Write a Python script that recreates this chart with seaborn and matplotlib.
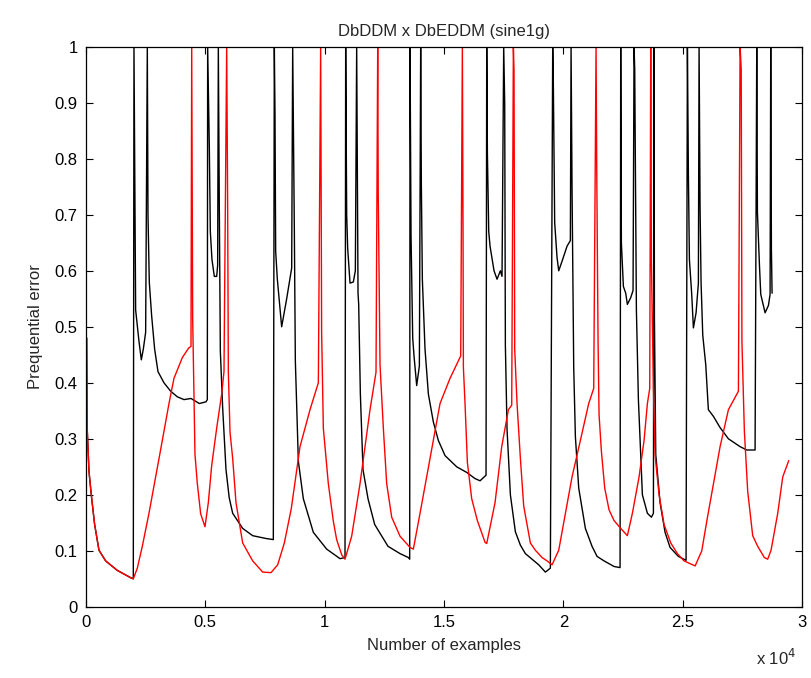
import numpy as np
import pandas as pd
import matplotlib
matplotlib.use("Agg")
import matplotlib.pyplot as plt
import seaborn as sns
from matplotlib.ticker import FixedLocator

# ---- data (number of examples, prequential error) ----
# shared start (both detectors behave the same before the first drift)
start_x = [30, 50, 126, 223, 363, 545, 824, 1313, 1872, 1983]
start_y = [0.48, 0.32, 0.242, 0.20, 0.147, 0.101, 0.082, 0.065, 0.052, 0.05]

dbddm_x = [2011, 2039, 2081, 2221, 2319, 2402, 2500,
           2570, 2598, 2653, 2751, 2877, 3017, 3268, 3548, 3827, 4106, 4400, 4749, 5028, 5084,
           5098, 5168, 5210, 5279, 5377, 5476, 5517,
           5545, 5587, 5629, 5726, 5866, 6000, 6146, 6565, 6984, 7542, 7849,
           7891, 7919, 7947, 8017, 8198, 8408, 8618,
           8660, 8729, 8771, 8897, 9106, 9525, 10084, 10643, 10852,
           10880, 10922, 10964, 11062, 11201, 11285,
           11341, 11397, 11425, 11495, 11606, 11816, 12095, 12654, 13157, 13506, 13562,
           13576, 13618, 13688, 13743, 13855, 13967,
           14022, 14050, 14092, 14204, 14344, 14553, 14763, 15042, 15531, 15950, 16299, 16509, 16760,
           16789, 16817, 16873, 16928, 17095, 17221, 17361, 17430,
           17500, 17542, 17570, 17640, 17780, 17989, 18200, 18408, 18967, 19246, 19455,
           19553, 19581, 19636, 19734, 19805, 19944, 20154, 20293,
           20322, 20363, 20433, 20503, 20643, 20922, 21201, 21411, 21704, 22123, 22375,
           22402, 22430, 22514, 22612, 22681, 22821, 22919,
           22961, 22989, 23059, 23143, 23213, 23310, 23520, 23688, 23772,
           23800, 23814, 23870, 24051, 24260, 24470, 24819, 25140,
           25196, 25238, 25280, 25377, 25447, 25559, 25656,
           25685, 25727, 25769, 25839, 25965, 26074, 26287, 26565, 26914, 27403, 27682, 28031,
           28101, 28129, 28213, 28269, 28450, 28590, 28660,
           28687, 28715, 28743]
dbddm_y = [1.0, 0.814, 0.53, 0.474, 0.441, 0.46, 0.49,
           1.0, 0.70, 0.58, 0.52, 0.46, 0.42, 0.40, 0.385, 0.375, 0.37, 0.372, 0.363, 0.366, 0.37,
           1.0, 0.82, 0.67, 0.62, 0.59, 0.59, 0.61,
           1.0, 0.71, 0.457, 0.356, 0.245, 0.195, 0.167, 0.14, 0.127, 0.122, 0.12,
           1.0, 0.88, 0.635, 0.585, 0.50, 0.55, 0.605,
           1.0, 0.675, 0.44, 0.26, 0.193, 0.133, 0.103, 0.086, 0.088,
           1.0, 0.70, 0.64, 0.578, 0.58, 0.60,
           1.0, 0.56, 0.54, 0.38, 0.245, 0.193, 0.147, 0.108, 0.095, 0.088, 0.085,
           1.0, 0.663, 0.48, 0.448, 0.395, 0.43,
           1.0, 0.755, 0.585, 0.46, 0.38, 0.33, 0.297, 0.27, 0.25, 0.24, 0.229, 0.225, 0.235,
           1.0, 0.81, 0.67, 0.644, 0.60, 0.585, 0.60, 0.59,
           1.0, 0.90, 0.467, 0.317, 0.20, 0.134, 0.11, 0.095, 0.075, 0.062, 0.069,
           1.0, 0.928, 0.686, 0.624, 0.60, 0.617, 0.644, 0.654,
           1.0, 0.748, 0.428, 0.304, 0.212, 0.14, 0.108, 0.09, 0.082, 0.072, 0.07,
           1.0, 0.65, 0.572, 0.56, 0.54, 0.552, 0.565,
           1.0, 0.96, 0.53, 0.37, 0.297, 0.20, 0.167, 0.16, 0.167,
           1.0, 0.518, 0.272, 0.186, 0.133, 0.106, 0.09, 0.083,
           1.0, 0.77, 0.62, 0.558, 0.498, 0.525, 0.578,
           1.0, 0.71, 0.578, 0.485, 0.432, 0.352, 0.34, 0.32, 0.30, 0.286, 0.28, 0.28,
           1.0, 0.705, 0.611, 0.558, 0.525, 0.538, 0.558,
           1.0, 0.638, 0.56]

dbeddm_x = [2151, 2360, 2640, 2920, 3198, 3478, 3687, 4037, 4300, 4400,
            4430, 4470, 4497, 4567, 4665, 4805, 4986, 5126, 5266, 5476, 5685, 5782,
            5895, 5936, 5964, 6034, 6146, 6285, 6565, 6984, 7403, 7752, 8031, 8310, 8600, 8967, 9386, 9735,
            9832, 9873, 9944, 10153, 10362, 10502, 10712, 10852, 11131, 11481, 11690, 11900, 12151,
            12222, 12244, 12319, 12458, 12598, 12808, 13157, 13576, 13715, 13995, 14274, 14553, 14833, 15252, 15699,
            15768, 15797, 15811, 15880, 15978, 16160, 16397, 16719, 16789, 17137, 17417, 17697, 17836,
            17905, 17933, 17961, 18059, 18199, 18338, 18618, 18827, 19106, 19316, 19525, 19805, 20084, 20363, 20712, 21061, 21271,
            21369, 21397, 21453, 21495, 21592, 21732, 21914, 22123, 22402, 22681, 22891, 23171, 23380, 23520, 23618,
            23660, 23688, 23772, 23841, 24009, 24218, 24498, 24777, 25056, 25520, 25798, 26008, 26287, 26565, 26914, 27333,
            27403, 27450, 27480, 27582, 27722, 27931, 28141, 28420, 28560, 28700, 28980, 29190, 29441]
dbeddm_y = [0.069, 0.108, 0.167, 0.232, 0.297, 0.363, 0.408, 0.445, 0.462, 0.465,
            1.0, 0.515, 0.45, 0.272, 0.22, 0.166, 0.143, 0.186, 0.252, 0.319, 0.38, 0.42,
            1.0, 0.718, 0.42, 0.312, 0.265, 0.186, 0.114, 0.082, 0.062, 0.061, 0.075, 0.114, 0.175, 0.286, 0.352, 0.40,
            1.0, 0.49, 0.319, 0.22, 0.153, 0.12, 0.093, 0.085, 0.126, 0.22, 0.286, 0.352, 0.419,
            1.0, 0.738, 0.432, 0.319, 0.22, 0.16, 0.126, 0.106, 0.103, 0.167, 0.232, 0.297, 0.363, 0.408, 0.448,
            1.0, 0.667, 0.428, 0.363, 0.258, 0.193, 0.154, 0.115, 0.113, 0.186, 0.286, 0.352, 0.36,
            1.0, 0.958, 0.46, 0.363, 0.265, 0.18, 0.114, 0.101, 0.088, 0.082, 0.075, 0.101, 0.167, 0.232, 0.297, 0.363, 0.39,
            1.0, 0.784, 0.474, 0.343, 0.278, 0.212, 0.173, 0.154, 0.14, 0.127, 0.167, 0.232, 0.297, 0.363, 0.39,
            1.0, 0.618, 0.389, 0.271, 0.20, 0.147, 0.114, 0.095, 0.082, 0.073, 0.10, 0.153, 0.22, 0.286, 0.352, 0.385,
            1.0, 0.96, 0.474, 0.314, 0.206, 0.127, 0.108, 0.088, 0.085, 0.101, 0.167, 0.232, 0.261]

x_ticks = [0, 5000, 10000, 15000, 20000, 25000, 30000]
x_tick_labels = ["0", "0.5", "1", "1.5", "2", "2.5", "3"]
y_ticks = [0, 0.1, 0.2, 0.3, 0.4, 0.5, 0.6, 0.7, 0.8, 0.9, 1.0]
y_tick_labels = ["0", "0.1", "0.2", "0.3", "0.4", "0.5", "0.6", "0.7", "0.8", "0.9", "1"]

series_names = ["DbDDM", "DbEDDM"]
series_colors = ["#000000", "#ff0000"]

# ---- build tables ----
df_b = pd.DataFrame({"examples": start_x + dbddm_x, "error": start_y + dbddm_y})
df_r = pd.DataFrame({"examples": start_x + dbeddm_x, "error": start_y + dbeddm_y})

sns.set_style("ticks")
plt.rcParams["font.family"] = ["Liberation Sans", "DejaVu Sans"]

fig = plt.figure(figsize=(8.11, 6.78), dpi=100)
fig.patch.set_facecolor("white")
ax = fig.add_axes([0.106, 0.105, 0.883, 0.826])

# black first, red drawn on top
sns.lineplot(data=df_b, x="examples", y="error", color=series_colors[0],
             estimator=None, sort=False, linewidth=1.0, ax=ax, zorder=2)
sns.lineplot(data=df_r, x="examples", y="error", color=series_colors[1],
             estimator=None, sort=False, linewidth=1.0, ax=ax, zorder=3)

ax.set_xlim(0, 30000)
ax.set_ylim(0, 1)
ax.xaxis.set_major_locator(FixedLocator(x_ticks))
ax.set_xticklabels(x_tick_labels)
ax.yaxis.set_major_locator(FixedLocator(y_ticks))
ax.set_yticklabels(y_tick_labels)

for s in ax.spines.values():
    s.set_visible(True)
    s.set_linewidth(0.9)
    s.set_color("black")
    s.set_zorder(5)
ax.tick_params(direction="in", length=5, width=0.8, top=True, right=True,
               labelsize=12, colors="black", pad=6)

ax.set_xlabel("Number of examples", fontsize=12, labelpad=6)
ax.set_ylabel("Prequential error", fontsize=12, labelpad=8)
ax.set_title("DbDDM x DbEDDM (sine1g)", fontsize=12, pad=8)
fig.text(0.932, 0.015, r"x 10$^{4}$", fontsize=12, ha="left", va="bottom")

fig.savefig("out.png", dpi=100, facecolor="white")
